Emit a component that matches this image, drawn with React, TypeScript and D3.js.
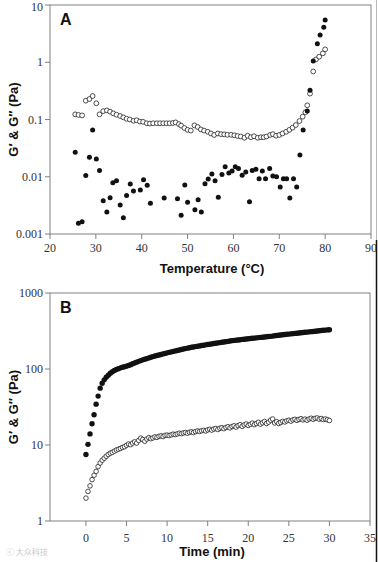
import React from 'react';
import * as d3 from 'd3';

// ---------- Panel A (temperature sweep) ----------
const tempTicks = [20, 30, 40, 50, 60, 70, 80, 90];
const modATicks = [0.001, 0.01, 0.1, 1, 10];
const modATickLabels = ['0.001', '0.01', '0.1', '1', '10'];

const aStorageT = [25.5, 26.2, 27.0, 27.8, 28.6, 29.3, 30.1, 30.8, 31.6, 32.4, 33.1, 33.7, 34.5, 35.3, 36.0, 36.7, 37.5, 38.2, 39.7, 40.4, 41.2, 41.9, 44.9, 47.8, 48.6, 49.4, 50.0, 51.6, 52.3, 53.0, 53.8, 54.5, 55.3, 56.0, 56.7, 57.5, 58.2, 59.0, 59.7, 60.4, 61.1, 61.9, 62.7, 63.5, 64.1, 64.9, 65.6, 66.3, 67.0, 67.9, 68.6, 69.4, 70.2, 70.9, 71.6, 72.3, 73.1, 73.8, 74.5, 75.2, 76.1, 76.7, 77.4, 78.3, 78.9, 79.7, 80.0];
const aStorageG = [0.0267, 0.00154, 0.00164, 0.0105, 0.0219, 0.0656, 0.0204, 0.0128, 0.0038, 0.00242, 0.0043, 0.00787, 0.00853, 0.0032, 0.00193, 0.0047, 0.00746, 0.00564, 0.00589, 0.0089, 0.0071, 0.00344, 0.00426, 0.00414, 0.00212, 0.00718, 0.00357, 0.00266, 0.00398, 0.00242, 0.00757, 0.00912, 0.0112, 0.00853, 0.00437, 0.011, 0.015, 0.0116, 0.0126, 0.015, 0.014, 0.0106, 0.0121, 0.00367, 0.0129, 0.0135, 0.00925, 0.0126, 0.0092, 0.014, 0.0103, 0.01, 0.0066, 0.0092, 0.0092, 0.00426, 0.0092, 0.0066, 0.024, 0.0656, 0.1406, 0.324, 1.05, 2.11, 3.0, 4.07, 5.47];

const aLossT = [25.5, 26.2, 27.0, 27.8, 28.6, 29.3, 30.1, 30.8, 31.6, 32.4, 33.1, 33.8, 34.5, 35.3, 36.0, 36.7, 37.4, 38.2, 38.9, 39.6, 40.3, 41.1, 41.8, 42.5, 43.3, 44.0, 44.7, 45.4, 46.1, 46.8, 47.4, 48.1, 48.6, 49.3, 50.0, 50.7, 51.5, 52.2, 52.9, 53.6, 54.4, 55.1, 55.8, 56.6, 57.3, 58.0, 58.7, 59.5, 60.2, 60.9, 61.6, 62.4, 63.1, 63.8, 64.5, 65.3, 66.0, 66.6, 67.2, 68.0, 68.6, 69.3, 70.0, 70.7, 71.5, 72.2, 72.9, 73.6, 74.4, 75.1, 75.7, 76.1, 76.7, 77.4, 78.0, 78.7, 79.5, 80.0];
const aLossG = [0.123, 0.12, 0.118, 0.213, 0.228, 0.257, 0.192, 0.123, 0.14, 0.144, 0.137, 0.128, 0.121, 0.115, 0.109, 0.103, 0.1, 0.095, 0.097, 0.092, 0.091, 0.086, 0.085, 0.086, 0.086, 0.086, 0.086, 0.086, 0.086, 0.087, 0.089, 0.083, 0.078, 0.071, 0.066, 0.064, 0.079, 0.074, 0.067, 0.064, 0.061, 0.057, 0.0537, 0.057, 0.0555, 0.055, 0.054, 0.054, 0.053, 0.0515, 0.0505, 0.048, 0.052, 0.049, 0.051, 0.048, 0.049, 0.049, 0.0505, 0.0537, 0.0555, 0.052, 0.0537, 0.057, 0.061, 0.066, 0.072, 0.08, 0.094, 0.112, 0.134, 0.177, 0.283, 0.69, 1.12, 1.25, 1.43, 1.68];

// ---------- Panel B (time sweep) ----------
const timeTicks = [0, 5, 10, 15, 20, 25, 30, 35];
const modBTicks = [1, 10, 100, 1000];
const modBTickLabels = ['1', '10', '100', '1000'];

const bTime = [0, 0.25, 0.5, 0.75, 1, 1.25, 1.5, 1.75, 2, 2.25, 2.5, 2.75, 3, 3.25, 3.5, 3.75, 4, 4.25, 4.5, 4.75, 5, 5.25, 5.5, 5.75, 6, 6.25, 6.5, 6.75, 7, 7.25, 7.5, 7.75, 8, 8.25, 8.5, 8.75, 9, 9.25, 9.5, 9.75, 10, 10.25, 10.5, 10.75, 11, 11.25, 11.5, 11.75, 12, 12.25, 12.5, 12.75, 13, 13.25, 13.5, 13.75, 14, 14.25, 14.5, 14.75, 15, 15.25, 15.5, 15.75, 16, 16.25, 16.5, 16.75, 17, 17.25, 17.5, 17.75, 18, 18.25, 18.5, 18.75, 19, 19.25, 19.5, 19.75, 20, 20.25, 20.5, 20.75, 21, 21.25, 21.5, 21.75, 22, 22.25, 22.5, 22.75, 23, 23.25, 23.5, 23.75, 24, 24.25, 24.5, 24.75, 25, 25.25, 25.5, 25.75, 26, 26.25, 26.5, 26.75, 27, 27.25, 27.5, 27.75, 28, 28.25, 28.5, 28.75, 29, 29.25, 29.5, 29.75, 30];
const bStorage = [7.5, 10.2, 14.0, 19.0, 25.0, 34.5, 44.0, 56.0, 65.0, 72.0, 78.0, 83.0, 88.0, 92.0, 95.5, 98.5, 101, 103.5, 105.5, 107, 109, 111.5, 114, 117, 120, 123, 126, 129, 132, 134.5, 137, 140, 143, 145.5, 148, 150.5, 153, 155.5, 158, 160.5, 163, 165.5, 168, 170.5, 173, 175.5, 178, 180.5, 183, 185.5, 188, 190.5, 193, 195, 197, 199, 201.5, 203.5, 205.5, 208, 210, 212, 214, 216.5, 218.5, 220.5, 222.5, 225, 227, 229, 231, 233.5, 236, 238, 239.5, 241, 243, 245, 246.5, 248, 250, 252, 253.5, 255, 257, 259, 260.5, 262, 264, 266, 267.5, 269, 271, 273.5, 276, 278, 280, 282, 284, 286, 288, 290, 292, 294, 296, 298, 300, 302, 304, 306, 308, 310, 312, 314, 316, 318, 320.5, 323, 325, 327, 329];
const bLoss = [2.0, 2.45, 2.9, 3.5, 4.0, 4.5, 5.2, 5.8, 6.3, 6.7, 7.1, 7.5, 7.8, 8.0, 8.3, 8.6, 8.8, 9.0, 9.3, 9.5, 9.9, 10.3, 10.1, 10.6, 11.0, 10.6, 11.5, 12.3, 11.8, 11.2, 12.0, 12.5, 12.1, 12.4, 12.8, 12.6, 13.0, 13.2, 12.9, 13.4, 13.5, 13.3, 13.6, 13.9, 13.7, 14.0, 14.3, 14.1, 14.4, 14.6, 14.3, 14.7, 14.9, 14.6, 15.0, 15.3, 15.1, 15.4, 15.6, 15.3, 15.8, 16.1, 15.7, 16.2, 16.5, 16.0, 16.6, 16.9, 16.4, 17.0, 17.4, 16.8, 17.5, 17.9, 17.2, 18.0, 18.5, 17.6, 18.4, 18.9, 18.1, 18.7, 19.4, 18.5, 19.2, 19.9, 18.8, 19.6, 20.4, 19.2, 20.0, 21.2, 22.0, 19.5, 20.3, 19.2, 19.8, 20.5, 20.1, 20.8, 21.2, 20.6, 21.4, 21.8, 21.1, 21.7, 22.2, 21.4, 21.9, 21.2, 22.0, 22.5, 21.8, 22.4, 22.7, 21.9, 22.3, 21.6, 22.0, 21.5, 21.0];

const SERIF = '"Liberation Serif", "DejaVu Serif", serif';
const SANS = '"Liberation Sans", Arial, sans-serif';
const AXIS = '#808080';

type PanelProps = {
  x: d3.ScaleLinear<number, number>;
  y: d3.ScaleLogarithmic<number, number>;
  xTicks: number[];
  yTicks: number[];
  yLabels: string[];
  xLabelY: number;
  letter: string;
  xTitle: string;
  xTitleY: number;
};

function Frame({ x, y, xTicks, yTicks, yLabels, xLabelY, letter, xTitle, xTitleY }: PanelProps) {
  const [x0, x1] = x.range();
  const [yb, yt] = y.range();
  const midY = (yb + yt) / 2;
  return (
    <g>
      <rect x={x0} y={yt} width={x1 - x0} height={yb - yt} fill="none" stroke={AXIS} strokeWidth={1} />
      {yTicks.map((t, i) => (
        <g key={'y' + i}>
          <line x1={x0 - 5} x2={x0} y1={y(t)} y2={y(t)} stroke={AXIS} />
          <text x={x0 - 7} y={Math.max(y(t), 6.5)} dy="0.35em" textAnchor="end" fontFamily={SERIF} fontSize={12} fill="#333">{yLabels[i]}</text>
        </g>
      ))}
      {xTicks.map((t, i) => (
        <g key={'x' + i}>
          <line x1={x(t)} x2={x(t)} y1={yb} y2={yb + 5} stroke={AXIS} />
          <text x={x(t)} y={xLabelY} textAnchor="middle" fontFamily={SERIF} fontSize={12} fill="#333">{t}</text>
        </g>
      ))}
      <text x={x0 + 10} y={yt + 20} fontFamily={SANS} fontWeight="bold" fontSize={16} fill="#111">{letter}</text>
      <text x={212} y={xTitleY} textAnchor="middle" fontFamily={SANS} fontWeight="bold" fontSize={13} fill="#111">{xTitle}</text>
      <text transform={`translate(18,${midY}) rotate(-90)`} textAnchor="middle" fontFamily={SANS} fontWeight="bold" fontSize={13} fill="#111">G′ &amp; G″ (Pa)</text>
    </g>
  );
}

export default function App() {
  const xA = d3.scaleLinear().domain([20, 90]).range([50, 371]);
  const yA = d3.scaleLog().domain([0.001, 10]).range([234, 5]);
  const xB = d3.scaleLinear().domain([-4.43, 35]).range([50, 370]);
  const yB = d3.scaleLog().domain([1, 1000]).range([521, 293]);

  return (
    <svg width={378} height={562} style={{ position: 'absolute', left: 0, top: 0, background: '#fff' }}>
      <rect x={0} y={0} width={378} height={562} fill="#fff" />
      <Frame x={xA} y={yA} xTicks={tempTicks} yTicks={modATicks} yLabels={modATickLabels} xLabelY={252} letter="A" xTitle="Temperature (°C)" xTitleY={273} />
      {aLossT.map((t, i) => (
        <circle key={'al' + i} cx={xA(t)} cy={yA(aLossG[i])} r={2.4} fill="#fff" stroke="#222" strokeWidth={0.8} />
      ))}
      {aStorageT.map((t, i) => (
        <circle key={'as' + i} cx={xA(t)} cy={yA(aStorageG[i])} r={2.5} fill="#111" />
      ))}

      <Frame x={xB} y={yB} xTicks={timeTicks} yTicks={modBTicks} yLabels={modBTickLabels} xLabelY={542} letter="B" xTitle="Time (min)" xTitleY={556} />
      {bTime.map((t, i) => (
        <circle key={'bl' + i} cx={xB(t)} cy={yB(bLoss[i])} r={2.3} fill="#fff" stroke="#222" strokeWidth={0.8} />
      ))}
      {bTime.map((t, i) => (
        <circle key={'bs' + i} cx={xB(t)} cy={yB(bStorage[i])} r={2.7} fill="#111" />
      ))}

      <line x1={376.5} x2={376.5} y1={0} y2={240} stroke="#bbb" strokeWidth={1} />
      <line x1={376.5} x2={376.5} y1={240} y2={562} stroke="#111" strokeWidth={1.5} />
      <text x={6} y={555} fontFamily={'"Noto Sans CJK SC", sans-serif'} fontSize={8} fill="#c8c8c8">ⓒ 大众科技</text>
    </svg>
  );
}
